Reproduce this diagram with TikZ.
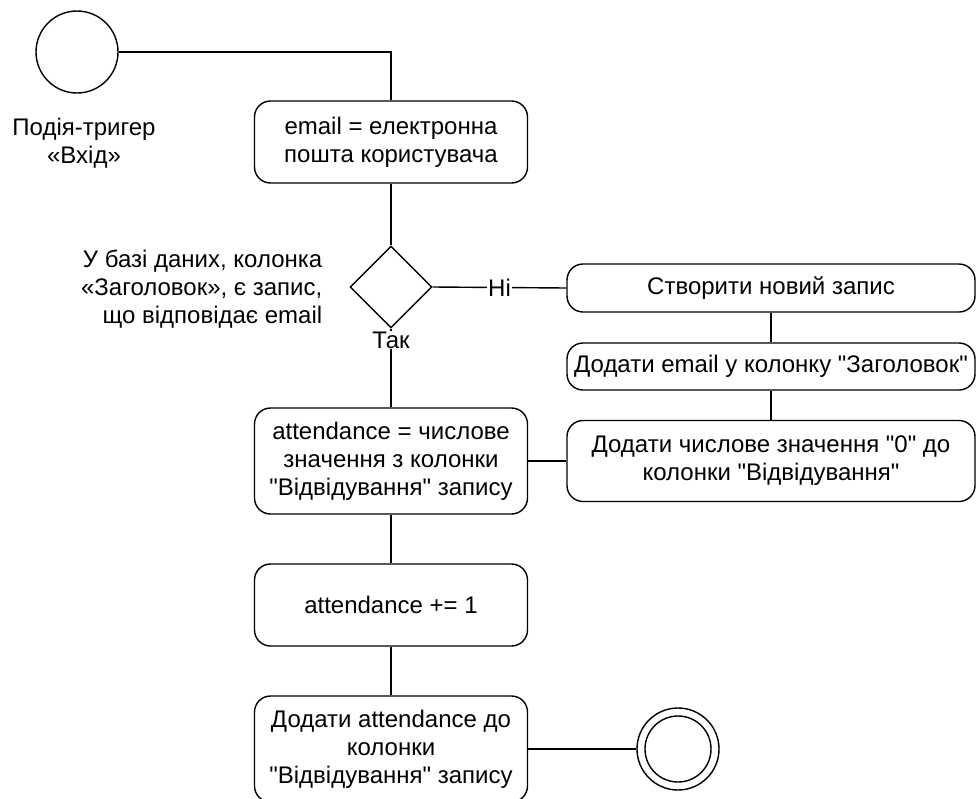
\documentclass[tikz,border=0pt]{standalone}
\usepackage{fontspec}
\setmainfont{Liberation Sans}[Ligatures=TeXOff]
\usetikzlibrary{shapes.geometric}
% straight double quote
\newcommand{\sq}{\symbol{34}}
\begin{document}
\begin{tikzpicture}[x=1pt,y=-1pt,line width=1.4pt,
  txt/.style={font=\fontsize{24}{28}\selectfont},
  action/.style={txt,draw,rounded corners=16pt,align=center,inner sep=0pt},
  note/.style={txt,align=center,inner sep=0pt},
  decision/.style={draw,diamond,minimum width=82pt,minimum height=82pt,inner sep=0pt},
  startnode/.style={draw,circle,minimum size=82pt,inner sep=0pt},
  guard/.style={txt,fill=white,inner sep=1pt}]
\useasboundingbox (0,0) rectangle (977,798);

% start event and its caption
\node[startnode] (start) at (77,52) {};
\node[note] (startlbl) at (84,143) {Подія-тригер\\«Вхід»};

% main column of actions
\node[action,minimum width=273pt,minimum height=82pt] (a1) at (391,142) {email = електронна\\пошта користувача};
\node[decision] (d) at (391,287) {};
\node[note,align=right,anchor=east] (dlbl) at (323,289) {У базі даних, колонка\\«Заголовок», є запис,\\що відповідає email};
\node[action,minimum width=273pt,minimum height=106pt] (a4) at (391,461) {attendance = числове\\значення з колонки\\\sq Відвідування\sq{} запису};
\node[action,minimum width=273pt,minimum height=82pt] (a5) at (391,605) {attendance += 1};
\node[action,minimum width=273pt,minimum height=106pt] (a6) at (391,749) {Додати attendance до\\колонки\\\sq Відвідування\sq{} запису};

% branch for a missing record
\node[action,minimum width=408pt,minimum height=48pt] (r1) at (771,288) {Створити новий запис};
\node[action,minimum width=408pt,minimum height=47pt] (r2) at (771,366.5) {Додати email у колонку \sq Заголовок\sq};
\node[action,minimum width=408pt,minimum height=81pt] (r3) at (771,461) {Додати числове значення \sq 0\sq{} до\\колонки \sq Відвідування\sq};

% final node
\node[draw,circle,minimum size=82pt,inner sep=0pt] (end) at (678,749) {};
\node[draw,circle,minimum size=66pt,inner sep=0pt] (endin) at (678,749) {};

% connectors
\draw (start.east) -| (a1.north);
\draw (a1.south) -- (d.north);
\draw (d.east) -- node[guard] (no) {Ні} (r1.west);
\draw (d.south) -- (a4.north);
\node[guard] (yes) at (391,340) {Так};
\draw (r1.south) -- (r2.north);
\draw (r2.south) -- (r3.north);
\draw (a4.east) -- (r3.west);
\draw (a4.south) -- (a5.north);
\draw (a5.south) -- (a6.north);
\draw (a6.east) -- (end.west);
\end{tikzpicture}
\end{document}
